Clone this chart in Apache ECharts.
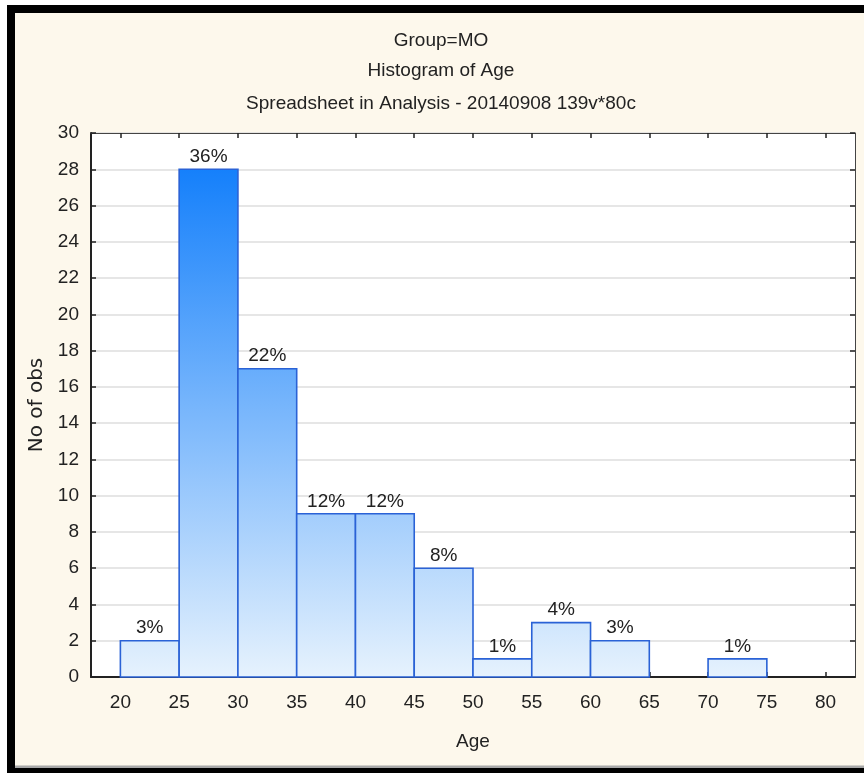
<!DOCTYPE html>
<html>
<head>
<meta charset="utf-8">
<script src="https://cdn.jsdelivr.net/npm/echarts@6/dist/echarts.min.js"></script>
<style>
html,body{margin:0;padding:0;background:#fff;}
#chart{width:864px;height:773px;}
</style>
</head>
<body>
<div id="chart"></div>
<script>
// ---- data ----
const titleLines = ['Group=MO', 'Histogram of Age', 'Spreadsheet in Analysis - 20140908 139v*80c'];
const binStart = [20, 25, 30, 35, 40, 45, 50, 55, 60, 65, 70, 75];
const binEnd   = [25, 30, 35, 40, 45, 50, 55, 60, 65, 70, 75, 80];
const counts   = [2, 28, 17, 9, 9, 6, 1, 3, 2, 0, 1, 0];
const percentLabels = ['3%', '36%', '22%', '12%', '12%', '8%', '1%', '4%', '3%', '0%', '1%', '0%'];
const xTicks = [20, 25, 30, 35, 40, 45, 50, 55, 60, 65, 70, 75, 80];
const xName = 'Age';
const yName = 'No of obs';

// ---- chart ----
const FONT = "'Liberation Sans', Arial, sans-serif";
const TXT = '#222222';
const maxCount = Math.max.apply(null, counts);

const seriesData = [];
for (let i = 0; i < counts.length; i++) {
  if (counts[i] > 0) seriesData.push([binStart[i], binEnd[i], counts[i], percentLabels[i]]);
}

function renderItem(params, api) {
  const x0 = api.value(0), x1 = api.value(1), v = api.value(2);
  const label = seriesData[params.dataIndex][3];
  const pTop = api.coord([x0, v]);
  const pBot = api.coord([x1, 0]);
  const gTop = api.coord([x0, maxCount])[1];
  const gBot = pBot[1];
  return {
    type: 'group',
    children: [
      {
        type: 'rect',
        shape: { x: pTop[0], y: pTop[1], width: pBot[0] - pTop[0], height: pBot[1] - pTop[1] },
        style: {
          fill: {
            type: 'linear', x: 0, y: gTop, x2: 0, y2: gBot, global: true,
            colorStops: [
              { offset: 0, color: '#1580fb' },
              { offset: 1, color: '#e6f2fd' }
            ]
          },
          stroke: '#2a62d6',
          lineWidth: 1.6
        }
      },
      {
        type: 'text',
        x: (pTop[0] + pBot[0]) / 2,
        y: pTop[1] - 3,
        style: {
          text: label, align: 'center', verticalAlign: 'bottom',
          fontSize: 19, fontFamily: FONT, fill: TXT
        }
      }
    ]
  };
}

function titleItem(text, top) {
  return {
    text: text, left: 441, top: top, textAlign: 'center', padding: 0,
    textStyle: { fontSize: 19, fontWeight: 'normal', color: TXT, fontFamily: FONT }
  };
}

const option = {
  backgroundColor: '#ffffff',
  animation: false,
  title: [titleItem(titleLines[0], 31), titleItem(titleLines[1], 61), titleItem(titleLines[2], 94)],
  graphic: [
    { type: 'rect', z: -5, silent: true, shape: { x: 15, y: 13, width: 849, height: 753 }, style: { fill: '#fdf8ec' } },
    { type: 'rect', z: -4, silent: true, shape: { x: 15, y: 765.5, width: 849, height: 2.5 }, style: { fill: '#a8a8a8' } },
    { type: 'rect', z: -4, silent: true, shape: { x: 7, y: 5, width: 857, height: 8 }, style: { fill: '#000' } },
    { type: 'rect', z: -4, silent: true, shape: { x: 7, y: 5, width: 8, height: 768 }, style: { fill: '#000' } },
    { type: 'rect', z: -4, silent: true, shape: { x: 7, y: 768, width: 857, height: 5 }, style: { fill: '#000' } }
  ],
  grid: { left: 91, top: 133, right: 9, bottom: 96, show: true, backgroundColor: '#ffffff', borderWidth: 0 },
  xAxis: [
    {
      type: 'value', min: 17.5, max: 82.5, position: 'bottom',
      axisLine: { show: true, onZero: false, lineStyle: { color: '#222', width: 2 } },
      axisTick: { show: true, inside: true, length: 5, customValues: xTicks, lineStyle: { color: '#222', width: 1.5 } },
      axisLabel: { customValues: xTicks, fontSize: 19, margin: 16, color: TXT, fontFamily: FONT },
      splitLine: { show: false },
      name: xName, nameLocation: 'middle', nameGap: 55,
      nameTextStyle: { fontSize: 19, color: TXT, fontFamily: FONT }
    },
    {
      type: 'value', min: 17.5, max: 82.5, position: 'top',
      axisLine: { show: true, onZero: false, lineStyle: { color: '#444', width: 1 } },
      axisTick: { show: true, inside: true, length: 5, customValues: xTicks, lineStyle: { color: '#222', width: 1.5 } },
      axisLabel: { show: false },
      splitLine: { show: false }
    }
  ],
  yAxis: [
    {
      type: 'value', min: 0, max: 30, interval: 2, position: 'left',
      axisLine: { show: true, onZero: false, lineStyle: { color: '#222', width: 2 } },
      axisTick: { show: true, inside: true, length: 5, lineStyle: { color: '#222', width: 1.5 } },
      axisLabel: { fontSize: 19, margin: 12, color: TXT, fontFamily: FONT },
      splitLine: { show: true, lineStyle: { color: '#dedede', width: 1.5 } },
      name: yName, nameLocation: 'middle', nameGap: 44,
      nameTextStyle: { fontSize: 20, color: TXT, fontFamily: "'DejaVu Sans', sans-serif" }
    },
    {
      type: 'value', min: 0, max: 30, interval: 2, position: 'right',
      axisLine: { show: true, onZero: false, lineStyle: { color: '#444', width: 1 } },
      axisTick: { show: true, inside: true, length: 5, lineStyle: { color: '#222', width: 1.5 } },
      axisLabel: { show: false },
      splitLine: { show: false }
    }
  ],
  series: [
    {
      type: 'custom',
      xAxisIndex: 0, yAxisIndex: 0,
      renderItem: renderItem,
      encode: { x: [0, 1], y: 2 },
      data: seriesData
    }
  ]
};

const chart = echarts.init(document.getElementById('chart'), null, { renderer: 'canvas' });
chart.setOption(option);
</script>
</body>
</html>
